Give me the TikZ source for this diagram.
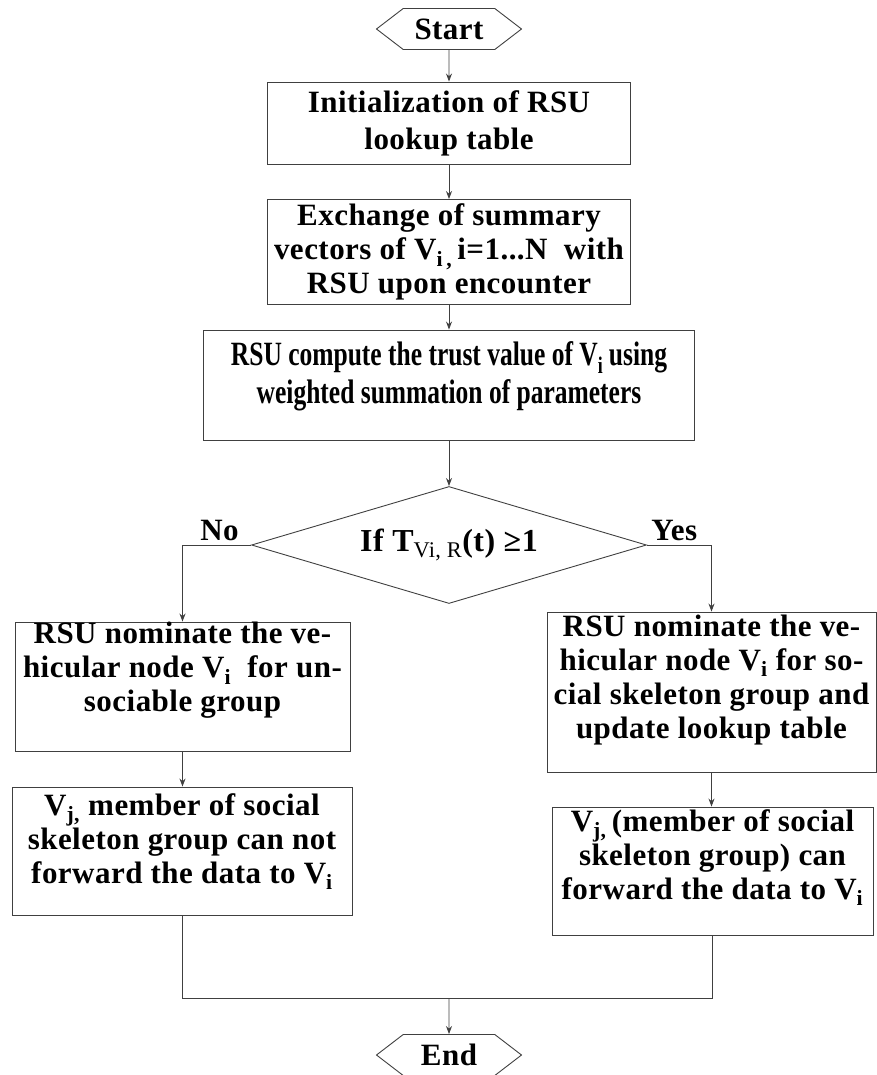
\documentclass[tikz,border=0pt]{standalone}
\usepackage{fontspec}
\setmainfont{Liberation Serif}[LetterSpace=1.5]
\newfontfamily\narrowfont{Liberation Serif}[FakeStretch=0.75]
\usetikzlibrary{shapes.geometric,shapes.symbols,arrows.meta}

% empty rule that pushes the text of a box upwards
\newcommand{\lowgap}[1]{\rule[-#1]{0pt}{#1}}

\tikzset{
  box/.style={draw=black!75, line width=0.9pt, rectangle, align=center, inner sep=0pt,
    font=\bfseries\fontsize{31}{34}\selectfont},
  hexa/.style={draw=black!75, line width=0.9pt, signal, signal to=west and east,
    signal pointer angle=75, inner sep=0pt, minimum width=145pt, minimum height=41pt,
    font=\bfseries\fontsize{31}{32}\selectfont},
  cond/.style={draw=black!75, line width=0.9pt, diamond, aspect=3.4, inner sep=0pt,
    minimum width=395pt, minimum height=117pt, font=\bfseries\fontsize{32}{33}\selectfont},
  tag/.style={font=\bfseries\fontsize{31}{32}\selectfont, inner sep=0pt},
  line/.style={draw=black!75, line width=0.9pt},
  flow/.style={line, -{Stealth[length=8pt,width=6pt]}}
}

\begin{document}
\begin{tikzpicture}[x=1pt,y=-1pt]
\useasboundingbox (0,0) rectangle (877,1075);

\node[hexa] (start) at (449,29) {Start};
\node[box, minimum width=363pt, minimum height=82pt,
  font=\bfseries\fontsize{31}{37}\selectfont] (init) at (449,123)
  {Initialization of RSU\\lookup table};
\node[box, minimum width=363pt, minimum height=105pt] (exch) at (449,252)
  {Exchange of summary\\vectors of V\textsubscript{i\,,}\,i=1...N\ \ with\\RSU upon encounter};
\node[box, minimum width=491pt, minimum height=110pt,
  font=\narrowfont\bfseries\fontsize{34}{38}\selectfont] (trust) at (449,385)
  {RSU compute the trust value of V\textsubscript{i}\,using\\weighted summation of parameters\lowgap{24pt}};
\node[cond] (check) at (449,545) {If T\textsubscript{\mdseries Vi, R}(t) ≥1};

% no branch
\node[box, minimum width=335pt, minimum height=129pt] (nomNo) at (182.5,686.5)
  {RSU nominate the ve-\\hicular node V\textsubscript{i}\ \ for un-\\sociable group\lowgap{39pt}};
\node[box, minimum width=340pt, minimum height=128pt] (forbid) at (182,851)
  {V\textsubscript{j,} member of social\\skeleton group can not\\forward the data to V\textsubscript{i}\lowgap{25pt}};

% yes branch
\node[box, minimum width=329pt, minimum height=160pt] (nomYes) at (711.5,692)
  {RSU nominate the ve-\\hicular node V\textsubscript{i} for so-\\cial skeleton group and\\update lookup table\lowgap{31pt}};
\node[box, minimum width=321pt, minimum height=128pt] (allow) at (712.5,871)
  {V\textsubscript{j,}\,(member of social\\skeleton group) can\\forward the data to V\textsubscript{i}\lowgap{33pt}};

\node[hexa] (stop) at (449,1055) {End};
\coordinate (join) at (449,998);

\draw[flow] (start) -- (init);
\draw[flow] (init) -- (exch);
\draw[flow] (exch) -- (trust);
\draw[flow] (trust) -- (check);
\draw[flow] (check.west) node[tag, anchor=south east, xshift=-12pt, yshift=4pt] {No} -| (nomNo);
\draw[flow] (check.east) node[tag, anchor=south west, xshift=4pt, yshift=4pt] {Yes} -| (nomYes);
\draw[flow] (nomNo.south) -- (nomNo.south |- forbid.north);
\draw[flow] (nomYes.south) -- (nomYes.south |- allow.north);
\draw[line] (forbid.south) |- (join) -| (allow.south);
\draw[flow] (join) -- (stop);
\end{tikzpicture}
\end{document}
